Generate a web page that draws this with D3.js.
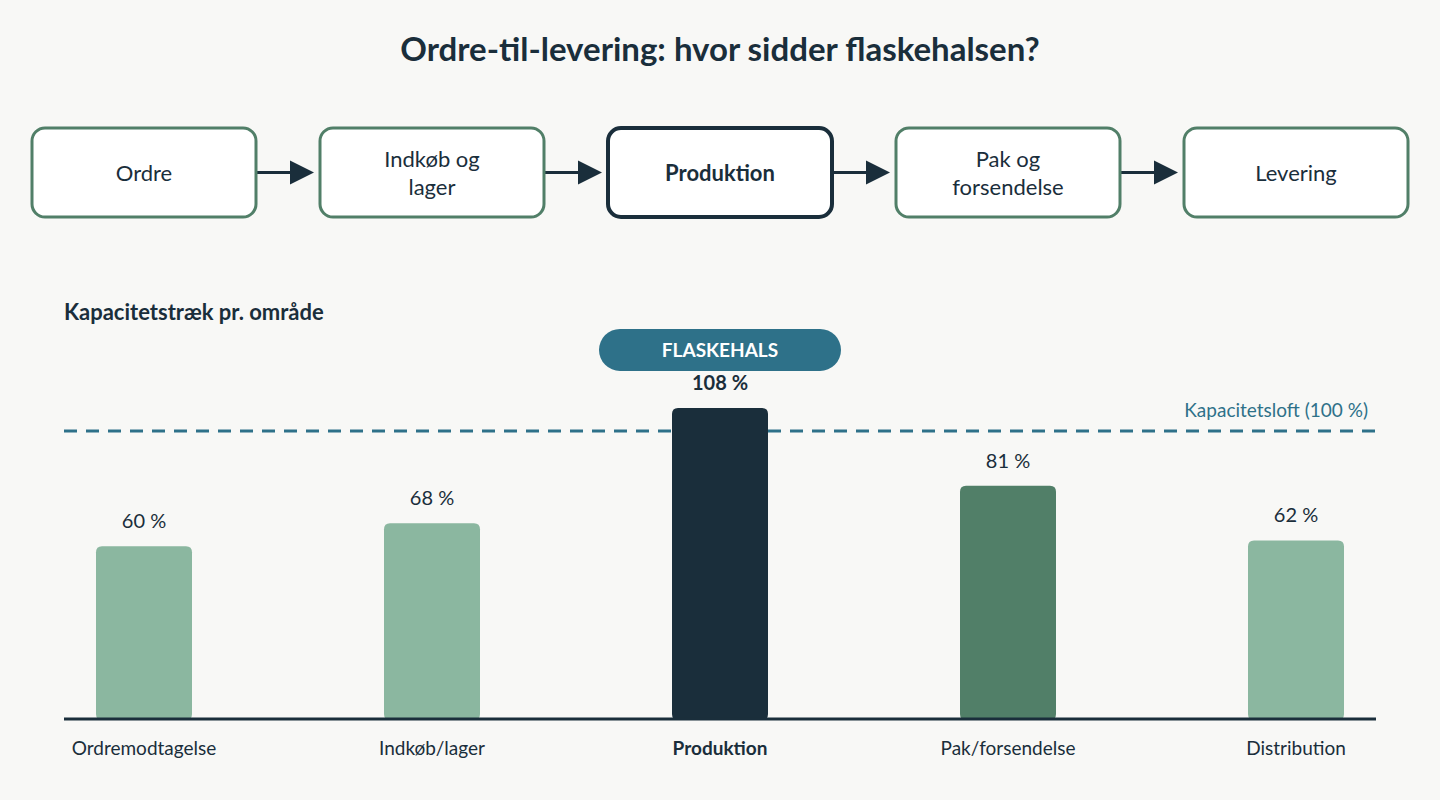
<!DOCTYPE html>
<html>
<head>
<meta charset="utf-8">
<script src="https://cdn.jsdelivr.net/npm/d3@7"></script>
<style>
  html, body { margin: 0; padding: 0; background: #f8f8f6; }
  svg { display: block; font-family: Lato, "Noto Sans", sans-serif; }
</style>
</head>
<body>
<svg id="chart" width="1440" height="800"></svg>
<script>
// flow steps
var steps = [ [ 'Ordre' ], [ 'Indkøb og', 'lager' ], [ 'Produktion' ], [ 'Pak og', 'forsendelse' ], [ 'Levering' ] ];
var stepHighlight = 2;

// capacity per area
var areas = [ 'Ordremodtagelse', 'Indkøb/lager', 'Produktion', 'Pak/forsendelse', 'Distribution' ];
var load = [ 60, 68, 108, 81, 62 ];
var ceiling = 100;
var bottleneck = 'Produktion';

var dark = '#1a2e3b',
	green = '#517f68',
	light = '#8bb7a0',
	teal = '#2e7189';

var svg = d3.select( '#chart' );

svg.append( 'text' )
	.attr( 'x', 720 ).attr( 'y', 61 )
	.attr( 'text-anchor', 'middle' )
	.style( 'font-size', '33px' ).style( 'font-weight', 700 )
	.style( 'fill', dark )
	.text( 'Ordre-til-levering: hvor sidder flaskehalsen?' );

// --- flow diagram ---
var fx = d3.scaleBand().domain( d3.range( steps.length ) ).range( [ 32, 1408 ] ).paddingInner( 64 / 288 );
var boxTop = 128, boxH = 89;

var arrows = svg.append( 'g' );
d3.range( steps.length - 1 ).forEach( function ( i ) {
	var x0 = fx( i ) + fx.bandwidth() + 1, x1 = fx( i + 1 ) - 6, cy = boxTop + boxH / 2;
	arrows.append( 'line' )
		.attr( 'x1', x0 ).attr( 'x2', x1 - 20 )
		.attr( 'y1', cy ).attr( 'y2', cy )
		.style( 'stroke', dark ).style( 'stroke-width', 3 );
	arrows.append( 'path' )
		.attr( 'd', 'M' + ( x1 - 24 ) + ',' + ( cy - 12 ) + 'L' + x1 + ',' + cy + 'L' + ( x1 - 24 ) + ',' + ( cy + 12 ) + 'Z' )
		.style( 'fill', dark );
} );

var box = svg.append( 'g' ).selectAll( 'g' ).data( steps ).join( 'g' )
	.attr( 'transform', function ( d, i ) { return 'translate(' + fx( i ) + ',' + boxTop + ')'; } );

box.append( 'rect' )
	.attr( 'width', fx.bandwidth() ).attr( 'height', boxH )
	.attr( 'rx', 13 )
	.style( 'fill', '#fff' )
	.style( 'stroke', function ( d, i ) { return i === stepHighlight ? dark : green; } )
	.style( 'stroke-width', function ( d, i ) { return i === stepHighlight ? 4 : 3; } );

box.append( 'text' )
	.attr( 'x', fx.bandwidth() / 2 )
	.attr( 'text-anchor', 'middle' )
	.style( 'font-size', '22px' )
	.style( 'font-weight', function ( d, i ) { return i === stepHighlight ? 700 : 400; } )
	.style( 'fill', dark )
	.selectAll( 'tspan' ).data( function ( d ) { return d; } ).join( 'tspan' )
	.attr( 'x', fx.bandwidth() / 2 )
	.attr( 'y', function ( d, j, nodes ) {
		var n = nodes.length;
		return boxH / 2 + 8 + ( j - ( n - 1 ) / 2 ) * 28;
	} )
	.text( function ( d ) { return d; } );

// --- bar chart ---
svg.append( 'text' )
	.attr( 'x', 64 ).attr( 'y', 320 )
	.style( 'font-size', '22px' ).style( 'font-weight', 700 )
	.style( 'fill', dark )
	.text( 'Kapacitetstræk pr. område' );

var base = 719;
var x = d3.scaleBand().domain( areas ).range( [ 0, 1440 ] ).paddingInner( 2 / 3 ).paddingOuter( 1 / 3 );
var y = d3.scaleLinear().domain( [ 0, 100 ] ).range( [ base, base - 288 ] );

var colorFor = function ( d, v ) {
	if ( d === bottleneck ) return dark;
	if ( v >= 80 ) return green;
	return light;
};

// capacity ceiling (under the bars)
svg.append( 'line' )
	.attr( 'x1', 64 ).attr( 'x2', 1376 )
	.attr( 'y1', y( ceiling ) ).attr( 'y2', y( ceiling ) )
	.style( 'stroke', teal ).style( 'stroke-width', 3 )
	.style( 'stroke-dasharray', '13,9' );

svg.append( 'text' )
	.attr( 'x', 1368 ).attr( 'y', y( ceiling ) - 14 )
	.attr( 'text-anchor', 'end' )
	.style( 'font-size', '19px' ).style( 'fill', teal )
	.text( 'Kapacitetsloft (' + ceiling + ' %)' );

var r = 6;
svg.append( 'g' ).selectAll( 'path' ).data( areas ).join( 'path' )
	.attr( 'd', function ( d, i ) {
		var x0 = x( d ), w = x.bandwidth(), y0 = y( load[i] ), y1 = base + 1;
		return 'M' + x0 + ',' + ( y1 - r ) +
			'L' + x0 + ',' + ( y0 + r ) +
			'Q' + x0 + ',' + y0 + ' ' + ( x0 + r ) + ',' + y0 +
			'L' + ( x0 + w - r ) + ',' + y0 +
			'Q' + ( x0 + w ) + ',' + y0 + ' ' + ( x0 + w ) + ',' + ( y0 + r ) +
			'L' + ( x0 + w ) + ',' + ( y1 - r ) +
			'Q' + ( x0 + w ) + ',' + y1 + ' ' + ( x0 + w - r ) + ',' + y1 +
			'L' + ( x0 + r ) + ',' + y1 +
			'Q' + x0 + ',' + y1 + ' ' + x0 + ',' + ( y1 - r ) + 'Z';
	} )
	.style( 'fill', function ( d, i ) { return colorFor( d, load[i] ); } );

// baseline
svg.append( 'line' )
	.attr( 'x1', 64 ).attr( 'x2', 1376 )
	.attr( 'y1', base ).attr( 'y2', base )
	.style( 'stroke', dark ).style( 'stroke-width', 3 );

// value labels
svg.append( 'g' ).selectAll( 'text' ).data( areas ).join( 'text' )
	.attr( 'x', function ( d ) { return x( d ) + x.bandwidth() / 2; } )
	.attr( 'y', function ( d, i ) { return y( load[i] ) - 18; } )
	.attr( 'text-anchor', 'middle' )
	.style( 'font-size', '20px' )
	.style( 'font-weight', function ( d ) { return d === bottleneck ? 700 : 400; } )
	.style( 'fill', dark )
	.text( function ( d, i ) { return load[i] + ' %'; } );

// bottleneck pill
var bi = areas.indexOf( bottleneck );
var pill = svg.append( 'g' )
	.attr( 'transform', 'translate(' + ( x( bottleneck ) + x.bandwidth() / 2 ) + ',' + ( y( load[bi] ) - 58 ) + ')' );
pill.append( 'rect' )
	.attr( 'x', -121 ).attr( 'y', -21 )
	.attr( 'width', 242 ).attr( 'height', 42 )
	.attr( 'rx', 21 )
	.style( 'fill', teal );
pill.append( 'text' )
	.attr( 'y', 7 )
	.attr( 'text-anchor', 'middle' )
	.style( 'font-size', '19px' ).style( 'font-weight', 700 )
	.style( 'fill', '#fff' )
	.text( 'FLASKEHALS' );

// x axis labels
var xAxis = d3.axisBottom( x ).tickSize( 0 ).tickPadding( 23 );
var gx = svg.append( 'g' ).attr( 'transform', 'translate(0,' + base + ')' ).call( xAxis );
gx.select( '.domain' ).remove();
gx.selectAll( 'text' )
	.style( 'font-family', 'Lato, "Noto Sans", sans-serif' )
	.style( 'font-size', '19px' )
	.style( 'fill', dark )
	.style( 'font-weight', function ( d ) { return d === bottleneck ? 700 : 400; } );
</script>
</body>
</html>
